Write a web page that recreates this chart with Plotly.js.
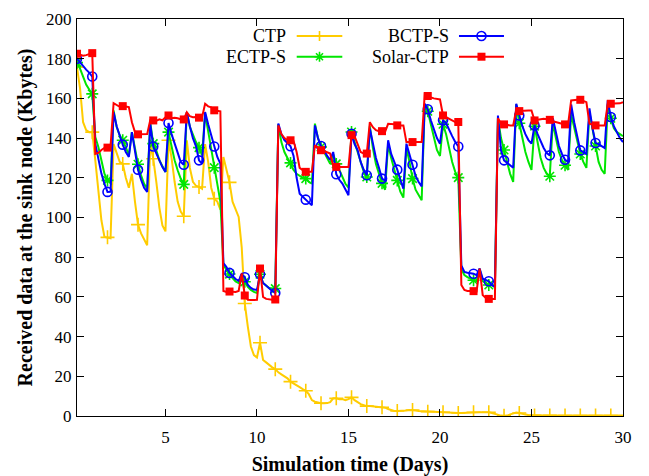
<!DOCTYPE html>
<html><head><meta charset="utf-8">
<script src="https://cdn.plot.ly/plotly-3.0.1.min.js"></script>
<style>html,body{margin:0;padding:0;background:#fff}#chart{width:649px;height:476px}</style>
</head><body><div id="chart"></div>
<script>
// Samples every 4 hours (6 per day), starting at day 1/6
const samplesPerDay = 6;
const seriesNames = ['CTP', 'ECTP-S', 'BCTP-S', 'Solar-CTP'];
const xTickVals = [5, 10, 15, 20, 25, 30];

const ctp = [
 175.7,165,148,144,143,143,
 128.8,112,98.6,90.2,90,89.5,
 137,133,128,127,120,115,
 122,108,96.4,92,89,86,
 137,129.6,118,105,96,93,
 138.9,130,118,108,103,100.6,
 138.9,125,118,116,115.4,114.5,
 137,128,115,109.5,108,104,
 130.5,124,117.7,108,103.6,100.3,
 85,56.7,45,35,30.7,29.5,
 36.9,28.2,27,25.5,24.5,23.6,
 22,21,20,19,17.3,16.5,
 15.5,14.5,13.5,12.7,11,8,
 7.2,6.8,6.4,6.4,6.5,7,
 8.9,8.9,8.5,8.5,8,8.5,
 9.4,8,7,6,5.5,5.0,
 5.0,4.8,4.6,4.5,4.4,4.2,
 3.5,2.8,2.5,2.5,2.5,2.6,
 2.8,3.0,3.0,2.8,2.5,2.4,
 2.3,2.2,2.1,2.0,2.0,1.9,
 1.9,1.8,1.7,1.6,1.5,1.5,
 1.5,1.6,1.8,1.9,1.9,1.9,
 1.9,1.9,1.9,1.9,1.5,1.0,
 0.5,0.2,0.1,0.2,0.8,1.5,
 1.8,1.5,1.0,0.7,0.5,0.4,
 0.3,0.3,0.3,0.3,0.3,0.3,
 0.3,0.2,0.2,0.2,0.2,0.2,
 0.2,0.2,0.2,0.2,0.2,0.2,
 0.2,0.2,0.2,0.2,0.2,0.2,
 0.2,0.2,0.2,0.2,0.2,0.2
];

const ectpS = [
 178,175,171,167,164.5,162.3,
 140.5,135.5,128.8,122.1,118.7,117.9,
 154,145.6,141.4,138.9,135.5,131.3,
 143,133.8,126.8,121.2,117,114.5,
 148.1,137.2,133.8,128.8,125.4,122.9,
 143,135.5,128.8,123.8,119.6,116.7,
 153.1,145.6,141.4,138,135.2,131.3,
 152.3,143,133.8,125.1,115,108,
 76,73.5,71.5,69.5,67.8,67,
 71.4,67.6,65,63.5,62.5,62,
 71.4,67,65.5,64.5,64.2,64.2,
 147,138,133,130,127.5,124,
 122,121,120,119.6,118,117,
 147.3,140,135.5,133,130,127,
 132,127,124,120,117,115,
 143.1,138,133,127,123,120.4,
 146,135,127,122,117.2,114,
 137,130,124,118.7,113,110,
 135,128,119.6,114,111,108.7,
 157,153.5,147,140,134,131,
 147,142,135,128,123,120.1,
 74,71,70,69,68.4,68,
 74,68,67,66,65.9,65,
 150,140,134,128,122,117.9,
 157,147.5,140,133,128,124,
 146,137,130,125,122,120.8,
 148,140,133,129,126.3,124,
 152,145,138,132,128,125,
 153,145,136,128,124,122,
 157,150,145,143,142,141
];

const bctpS = [
 180,178,176,174.5,173,171,
 137.2,128.8,122.1,117,112.9,113,
 153.1,146,141,136.7,133,130.5,
 143,133,124.1,119,115,112.9,
 147.2,135.8,132.1,128.8,125.4,122.9,
 147.6,142,137,132,128,126.6,
 153.1,146,140,136,128.8,127,
 153.1,147,141.5,135.8,130.5,127.1,
 77,75,72.1,70.5,69,68.1,
 71.4,69.9,66,64.5,63.7,63.5,
 71.4,67,65.5,64,63,62,
 147.3,142,139,137.5,135.9,131,
 120,112,110.4,109,107.5,106.2,
 146.4,140,136,134,131,129,
 133,121.8,119,117.1,114,111.2,
 142.2,137,133.9,128,124,121.3,
 144.8,138,130,125,119.6,118.5,
 138.9,132,128,124.1,119,114.5,
 137.2,132,126.6,121,117.9,115.7,
 157.3,154.5,149,144,140,137.2,
 149,147.5,144,141,138,135.8,
 75.9,72.6,72.2,72,71.7,71,
 74.3,69.2,68.5,67.9,66,65,
 151.4,133.8,128.8,127.5,126.3,125.1,
 157.3,151.4,146,142,139,137.2,
 146.4,142,138,135,132.5,131.3,
 150,142,136,132,129.1,128,
 157,148,140,133.8,133,132,
 155,145,137.5,137,136,135,
 159,150.6,146,143,140,138
];

const solarCtp = [
 182.5,181.8,181.5,181.8,182.3,182.8,
 132,132.5,134,135,135.2,136,
 157.6,156.5,155.8,156.1,156,155.6,
 148,143,141.9,141.9,141.9,142,
 149,148.9,148.7,149.5,149,150.5,
 151.4,150,150.3,150,149.5,149.4,
 153,151,150.5,150.6,150.3,150.5,
 157.3,156,155.5,154,153.6,153.5,
 63,62.5,62.7,62.5,62.5,63,
 71.8,60.7,58.5,58.4,58.5,58.5,
 74.3,60,59,58.7,58.6,58.7,
 146.4,142,140,139,138.9,138.5,
 133,125,123.8,123,123,123,
 136.4,135,133.9,133.5,133,132.2,
 126,125.5,125.5,125.5,125.5,125.5,
 141.5,140.9,137,133,132.2,132.2,
 148,145.5,144,143.5,143.5,143.2,
 147.2,147.2,147,146.4,146.4,146.4,
 138,138,138,138,138,138,
 162.3,161.2,160.5,160,159.8,159.5,
 151.4,150.5,149.5,148.8,148.1,148.1,
 66,63.5,63,63,62.9,62.8,
 74.3,61,59.5,59,59,59,
 150,147.2,146.9,146.5,146.4,146.4,
 154.3,153.6,153.8,153.9,153.9,153.9,
 148.9,149.2,149.5,149.8,149.5,149.2,
 148.5,148,147.5,147.2,146.9,146.9,
 159,159.3,159.3,159.3,158.5,158.1,
 147.2,146.6,146.4,146.4,146.4,146.4,
 157.3,157.3,157.3,157.3,157.5,158.1
];

const days = ctp.map((_, i) => (i + 1) / samplesPerDay);
const markerEvery = 5;
const FONT = 'Liberation Serif';

const styles = [
  {color: '#ffcc00', symbol: 'cross-thin-open', size: 10, lw: 1.6},
  {color: '#00e600', symbol: 'asterisk-open', size: 10, lw: 1.6},
  {color: '#0000ff', symbol: 'circle-open', size: 9, lw: 1.6},
  {color: '#ff0000', symbol: 'square', size: 8, lw: 0}
];
const allSeries = [ctp, ectpS, bctpS, solarCtp];

const traces = [];
allSeries.forEach((ys, s) => {
  const st = styles[s];
  traces.push({
    x: days, y: ys, type: 'scatter', mode: 'lines', name: seriesNames[s],
    line: {color: st.color, width: 2}, hoverinfo: 'skip', showlegend: false
  });
  const mx = [], my = [];
  ys.forEach((v, i) => { if (i % markerEvery === 0) { mx.push(days[i]); my.push(v); } });
  traces.push({
    x: mx, y: my, type: 'scatter', mode: 'markers', name: seriesNames[s],
    marker: {color: st.color, symbol: st.symbol, size: st.size, line: {color: st.color, width: st.lw}},
    hoverinfo: 'skip', showlegend: false
  });
});

// custom gnuplot-style key: text right-aligned, then sample line with a marker
const keyCols = [{textX: 0.3864, x0: 0.4024, x1: 0.4859}, {textX: 0.6844, x0: 0.6996, x1: 0.782}];
const keyRows = [0.957, 0.905];
const keyPlace = [[0,0],[0,1],[1,0],[1,1]]; // CTP, ECTP-S, BCTP-S, Solar-CTP -> [col,row]
const annotations = [];
const shapes = [];
seriesNames.forEach((nm, s) => {
  const [c, r] = keyPlace[s];
  const col = keyCols[c], yy = keyRows[r], st = styles[s];
  annotations.push({xref: 'paper', yref: 'paper', x: col.textX, y: yy, xanchor: 'right', yanchor: 'middle',
    text: nm, showarrow: false, font: {family: FONT, size: 18, color: '#000'}});
  shapes.push({type: 'line', xref: 'paper', yref: 'paper', x0: col.x0, x1: col.x1, y0: yy, y1: yy,
    line: {color: st.color, width: 2}});
  const cx = (col.x0 + col.x1) / 2;
  const base = {xref: 'paper', yref: 'paper', xsizemode: 'pixel', ysizemode: 'pixel', xanchor: cx, yanchor: yy};
  if (s === 0) shapes.push(Object.assign({type: 'path', path: 'M-5,0L5,0M0,-5L0,5', line: {color: st.color, width: 1.6}}, base));
  if (s === 1) shapes.push(Object.assign({type: 'path', path: 'M-5,0L5,0M0,-5L0,5M-3.5,-3.5L3.5,3.5M-3.5,3.5L3.5,-3.5', line: {color: st.color, width: 1.6}}, base));
  if (s === 2) shapes.push(Object.assign({type: 'circle', x0: -4.5, x1: 4.5, y0: -4.5, y1: 4.5, line: {color: st.color, width: 1.6}}, base));
  if (s === 3) shapes.push(Object.assign({type: 'rect', x0: -4, x1: 4, y0: -4, y1: 4, fillcolor: st.color, line: {width: 0}}, base));
});

const axisCommon = {
  ticks: 'inside', ticklen: 7, tickwidth: 1, tickcolor: '#000',
  showline: true, linecolor: '#000', linewidth: 1, mirror: 'ticks',
  showgrid: false, zeroline: false, tickfont: {family: FONT, size: 17, color: '#000'}
};

const layout = {
  width: 649, height: 476,
  margin: {l: 77, r: 26, t: 19, b: 60},
  paper_bgcolor: '#ffffff', plot_bgcolor: '#ffffff',
  showlegend: false,
  font: {family: FONT, color: '#000', size: 17},
  xaxis: Object.assign({}, axisCommon, {
    range: [1 / samplesPerDay, 30], tickvals: xTickVals, ticktext: xTickVals.map(String),
    ticklabelstandoff: 6,
    title: {text: '<b>Simulation time (Days)</b>', font: {family: FONT, size: 20, color: '#000'}, standoff: 12}
  }),
  yaxis: Object.assign({}, axisCommon, {
    range: [0, 200], dtick: 20, tick0: 0, ticklabelstandoff: 1,
    title: {text: '<b>Received data at the sink node (Kbytes)</b>', font: {family: FONT, size: 20, color: '#000'}, standoff: 8}
  }),
  annotations: annotations,
  shapes: shapes
};

Plotly.newPlot('chart', traces, layout, {staticPlot: true, displayModeBar: false});
</script>
</body></html>
